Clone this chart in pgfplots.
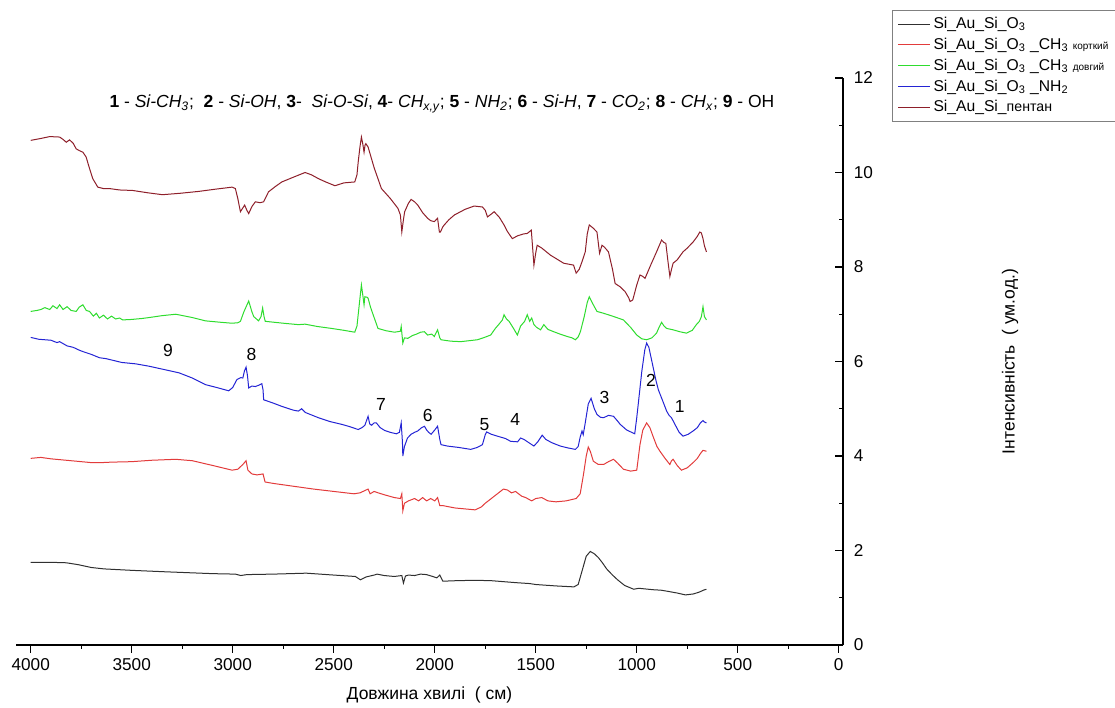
\documentclass[border=0pt]{standalone}
\usepackage{fontspec}
\setmainfont{Liberation Sans}
\usepackage{pgfplots}
\pgfplotsset{compat=1.18}
\definecolor{cblack}{HTML}{303030}
\definecolor{cred}{HTML}{E23B3B}
\definecolor{cgreen}{HTML}{2EDC2E}
\definecolor{cblue}{HTML}{2424D4}
\definecolor{cpent}{HTML}{8E1F2A}
\begin{document}
\begin{tikzpicture}
\path[use as bounding box] (0pt,0pt) rectangle (669pt,424.8pt);
\begin{axis}[
  at={(9.6pt,37.8pt)}, anchor=south west,
  scale only axis, width=496.2pt, height=340.2pt,
  x dir=reverse, xmin=-21, xmax=4073, ymin=0, ymax=12,
  axis x line*=bottom, axis y line*=right,
  axis line style={line width=0.8pt},
  xtick={0,500,...,4000}, minor x tick num=1,
  ytick={0,2,...,12}, minor y tick num=1,
  xtick align=outside, ytick align=inside,
  major tick length=4.8pt, minor tick length=2.4pt,
  every tick/.style={line width=0.8pt, black},
  tick label style={font=\fontsize{10.3}{12}\selectfont},
  yticklabel style={xshift=3pt},
  /pgf/number format/assume math mode=true,
  /pgf/number format/set thousands separator={},
  legend style={at={(axis description cs:1.0593,1.12)}, anchor=north west,
    draw=gray, line width=0.6pt, font=\fontsize{9.4}{11.5}\selectfont,
    row sep=0.2pt, inner xsep=3pt, inner ysep=2pt},
  legend cell align=left,
  legend image code/.code={\draw[#1] (0pt,0pt)--(19pt,0pt);},
  clip=false,
]
\addplot[cblack, line width=0.6pt] table {
4000 1.75
3900 1.75
3824 1.74
3765 1.70
3700 1.64
3636 1.61
3500 1.58
3338 1.55
3100 1.51
2987 1.50
2960 1.47
2930 1.49
2800 1.50
2636 1.52
2500 1.48
2393 1.45
2368 1.38
2340 1.44
2300 1.48
2286 1.50
2250 1.47
2200 1.45
2163 1.47
2155 1.31
2145 1.46
2130 1.48
2100 1.47
2070 1.50
2041 1.49
2010 1.45
1990 1.42
1975 1.48
1960 1.35
1900 1.36
1800 1.37
1717 1.36
1600 1.32
1530 1.30
1500 1.28
1400 1.25
1311 1.23
1290 1.28
1270 1.58
1250 1.88
1230 1.98
1210 1.93
1190 1.85
1170 1.74
1149 1.61
1120 1.48
1095 1.38
1060 1.26
1015 1.18
990 1.20
966 1.19
920 1.17
880 1.16
852 1.14
800 1.10
759 1.06
720 1.08
690 1.12
670 1.16
655 1.18
};
\addlegendentry{Si\_Au\_Si\_O\textsubscript{3}}
\addplot[cred, line width=0.6pt] table {
4000 3.95
3950 3.97
3900 3.94
3850 3.92
3800 3.90
3750 3.88
3700 3.86
3650 3.86
3600 3.87
3500 3.88
3400 3.91
3282 3.93
3200 3.90
3100 3.80
3003 3.70
2975 3.72
2950 3.82
2934 3.90
2925 3.70
2905 3.62
2880 3.60
2850 3.62
2840 3.45
2800 3.42
2700 3.36
2600 3.30
2500 3.25
2400 3.20
2370 3.22
2330 3.30
2320 3.20
2300 3.25
2280 3.22
2250 3.18
2200 3.12
2170 3.10
2163 3.20
2158 2.84
2150 3.00
2130 3.05
2100 3.10
2080 3.05
2060 3.12
2040 3.05
2020 3.10
2000 3.05
1986 3.12
1975 2.95
1960 2.95
1900 2.90
1850 2.88
1800 2.86
1770 2.92
1750 3.00
1720 3.10
1690 3.20
1660 3.30
1640 3.28
1620 3.22
1600 3.25
1570 3.15
1550 3.12
1520 3.05
1500 3.10
1470 3.12
1440 3.05
1400 3.03
1350 3.05
1300 3.10
1280 3.20
1264 3.60
1250 4.00
1240 4.19
1230 4.10
1215 3.89
1190 3.82
1164 3.82
1140 3.88
1115 3.93
1095 3.85
1066 3.72
1030 3.68
1000 3.70
984 4.24
970 4.55
951 4.70
935 4.60
918 4.40
900 4.20
885 4.10
860 3.95
836 3.82
828 3.90
820 3.93
800 3.80
779 3.70
750 3.75
721 3.86
700 3.95
685 4.05
672 4.12
655 4.10
};
\addlegendentry{Si\_Au\_Si\_O\textsubscript{3} \_CH\textsubscript{3} {\fontsize{6}{8}\selectfont корткий}}
\addplot[cgreen, line width=0.6pt] table {
4000 7.06
3970 7.08
3950 7.10
3930 7.14
3906 7.10
3890 7.18
3870 7.12
3857 7.20
3840 7.10
3820 7.16
3800 7.08
3775 7.06
3760 7.15
3742 7.20
3725 7.08
3709 7.06
3690 6.96
3675 7.02
3660 6.92
3640 6.98
3620 6.90
3600 6.96
3580 6.90
3560 6.92
3545 6.88
3500 6.89
3450 6.91
3414 6.93
3350 6.97
3282 7.00
3200 6.93
3135 6.86
3060 6.83
3003 6.81
2975 6.82
2962 6.85
2945 7.05
2921 7.28
2905 7.05
2896 6.95
2872 6.86
2860 6.95
2852 7.13
2845 6.95
2839 6.85
2750 6.81
2675 6.78
2642 6.79
2580 6.74
2511 6.70
2450 6.66
2396 6.62
2385 6.75
2379 6.99
2370 7.35
2363 7.62
2356 7.40
2350 7.20
2346 7.37
2335 7.36
2330 7.34
2318 7.15
2305 6.99
2281 6.70
2240 6.65
2199 6.62
2170 6.64
2166 6.74
2158 6.39
2150 6.50
2133 6.49
2110 6.55
2090 6.58
2070 6.62
2051 6.63
2035 6.56
2015 6.58
2002 6.53
1986 6.67
1975 6.50
1969 6.46
1920 6.43
1871 6.42
1830 6.44
1789 6.46
1760 6.50
1723 6.56
1700 6.70
1680 6.80
1665 6.88
1657 6.99
1645 6.90
1632 6.85
1610 6.70
1591 6.56
1575 6.75
1555 6.85
1542 6.99
1530 6.85
1520 6.92
1509 6.78
1495 6.72
1476 6.67
1460 6.78
1440 6.68
1411 6.63
1380 6.58
1345 6.53
1320 6.50
1304 6.46
1290 6.52
1279 6.63
1260 6.95
1245 7.25
1235 7.37
1215 7.20
1197 7.06
1164 7.02
1120 6.96
1066 6.88
1030 6.72
1000 6.56
975 6.48
951 6.46
925 6.50
902 6.60
890 6.72
877 6.83
865 6.75
852 6.70
820 6.67
787 6.63
754 6.60
725 6.66
705 6.78
690 6.85
680 6.95
672 7.16
665 6.95
655 6.88
};
\addlegendentry{Si\_Au\_Si\_O\textsubscript{3} \_CH\textsubscript{3} {\fontsize{6}{8}\selectfont довгий}}
\addplot[cblue, line width=0.6pt] table {
4000 6.51
3960 6.47
3930 6.46
3900 6.45
3870 6.40
3857 6.42
3820 6.33
3790 6.30
3760 6.24
3742 6.21
3700 6.15
3660 6.08
3627 6.06
3550 5.98
3480 5.95
3414 5.90
3340 5.83
3266 5.76
3200 5.65
3135 5.51
3080 5.45
3020 5.38
3000 5.45
2979 5.62
2960 5.66
2950 5.65
2942 5.80
2934 5.88
2927 5.70
2921 5.44
2905 5.48
2888 5.47
2870 5.50
2856 5.53
2850 5.40
2847 5.19
2800 5.12
2757 5.05
2700 4.97
2675 4.95
2659 5.00
2640 4.92
2576 4.81
2520 4.73
2461 4.67
2420 4.62
2379 4.56
2360 4.60
2346 4.65
2330 4.84
2322 4.68
2313 4.65
2300 4.70
2289 4.70
2270 4.60
2248 4.54
2220 4.50
2190 4.47
2175 4.50
2166 4.70
2160 4.30
2158 4.00
2150 4.20
2135 4.38
2117 4.46
2100 4.50
2084 4.53
2065 4.60
2051 4.63
2040 4.55
2030 4.50
2018 4.46
2000 4.55
1986 4.63
1975 4.35
1969 4.24
1937 4.21
1880 4.18
1822 4.14
1790 4.18
1764 4.24
1750 4.45
1743 4.51
1720 4.46
1690 4.42
1650 4.37
1624 4.31
1590 4.30
1575 4.38
1558 4.35
1530 4.27
1509 4.21
1490 4.30
1468 4.44
1450 4.35
1420 4.28
1378 4.21
1340 4.17
1304 4.14
1290 4.20
1280 4.40
1271 4.53
1265 4.45
1255 4.70
1240 5.10
1226 5.22
1210 5.00
1197 4.88
1180 4.82
1164 4.81
1140 4.86
1115 4.84
1095 4.74
1082 4.67
1050 4.55
1010 4.47
1000 4.81
990 5.20
975 5.79
960 6.25
951 6.39
940 6.30
930 6.10
918 5.86
905 5.60
893 5.40
870 5.15
852 4.95
840 4.86
828 4.81
811 4.67
790 4.50
771 4.42
745 4.46
721 4.53
700 4.60
685 4.70
672 4.75
665 4.72
655 4.70
};
\addlegendentry{Si\_Au\_Si\_O\textsubscript{3} \_NH\textsubscript{2}}
\addplot[cpent, line width=0.6pt] table {
4000 10.68
3950 10.72
3906 10.76
3857 10.75
3840 10.70
3824 10.64
3808 10.69
3790 10.62
3775 10.50
3758 10.46
3742 10.43
3726 10.33
3710 10.10
3693 9.87
3668 9.69
3640 9.66
3611 9.66
3560 9.63
3496 9.62
3420 9.57
3348 9.53
3260 9.56
3168 9.60
3080 9.65
3003 9.69
2987 9.66
2975 9.45
2962 9.17
2950 9.25
2941 9.31
2930 9.20
2921 9.13
2905 9.28
2888 9.38
2865 9.36
2847 9.38
2823 9.59
2790 9.70
2757 9.80
2700 9.90
2642 10.00
2610 9.95
2576 9.87
2540 9.80
2494 9.72
2450 9.78
2396 9.80
2385 9.95
2379 10.22
2370 10.55
2363 10.75
2356 10.60
2350 10.43
2345 10.58
2341 10.61
2330 10.54
2300 10.10
2264 9.66
2220 9.45
2182 9.24
2170 9.10
2163 8.74
2155 9.00
2149 9.17
2130 9.35
2117 9.43
2100 9.38
2084 9.31
2060 9.15
2035 9.03
2020 8.98
2002 8.96
1986 9.03
1977 8.74
1972 8.74
1960 8.85
1953 8.89
1930 9.00
1903 9.10
1850 9.22
1805 9.29
1764 9.27
1750 9.20
1739 9.06
1720 9.12
1706 9.17
1680 9.05
1657 8.89
1640 8.75
1616 8.60
1590 8.66
1560 8.70
1542 8.71
1522 8.78
1509 8.04
1500 8.30
1493 8.46
1470 8.40
1427 8.25
1400 8.18
1362 8.08
1313 8.04
1300 7.87
1285 7.95
1271 8.11
1255 8.32
1245 8.70
1235 8.89
1215 8.82
1197 8.74
1184 8.29
1172 8.46
1160 8.42
1140 8.32
1120 7.95
1107 7.65
1082 7.58
1058 7.48
1040 7.35
1033 7.27
1020 7.30
1013 7.41
1000 7.62
984 7.83
970 7.80
959 7.76
930 8.05
902 8.32
877 8.57
866 8.52
856 8.50
845 8.10
836 7.80
828 7.95
820 8.08
800 8.15
771 8.32
750 8.40
721 8.53
700 8.65
688 8.74
680 8.72
672 8.60
665 8.45
655 8.32
};
\addlegendentry{Si\_Au\_Si\_{\fontsize{8.5}{10}\selectfont пентан}}
\begin{scope}[every node/.style={font=\fontsize{10.5}{12}\selectfont}]
\node at (axis cs:3321,6.24) {9};
\node at (axis cs:2907,6.14) {8};
\node at (axis cs:2266,5.08) {7};
\node at (axis cs:2035,4.85) {6};
\node at (axis cs:1754,4.66) {5};
\node at (axis cs:1601,4.78) {4};
\node at (axis cs:1160,5.23) {3};
\node at (axis cs:930,5.60) {2};
\node at (axis cs:787,5.04) {1};
\node at (axis description cs:0.515,0.954) {{\bfseries 1} - \textit{Si-CH\textsubscript{3}};\ \ {\bfseries 2} - \textit{Si-OH}, {\bfseries 3}-\ \ \textit{Si-O-Si}, {\bfseries 4}- \textit{CH\textsubscript{x,y}}; {\bfseries 5} - \textit{NH\textsubscript{2}}; {\bfseries 6} - \textit{Si-H}, {\bfseries 7} - \textit{CO\textsubscript{2}}; {\bfseries 8} - \textit{CH\textsubscript{x}}; {\bfseries 9} - OH};
\node at (axis description cs:0.5,-0.088) {Довжина хвилі\ \ ( см)};
\node[rotate=90] at (axis description cs:1.202,0.5) {Інтенсивність\ \ ( ум.од.)};
\end{scope}
\end{axis}
\end{tikzpicture}
\end{document}
